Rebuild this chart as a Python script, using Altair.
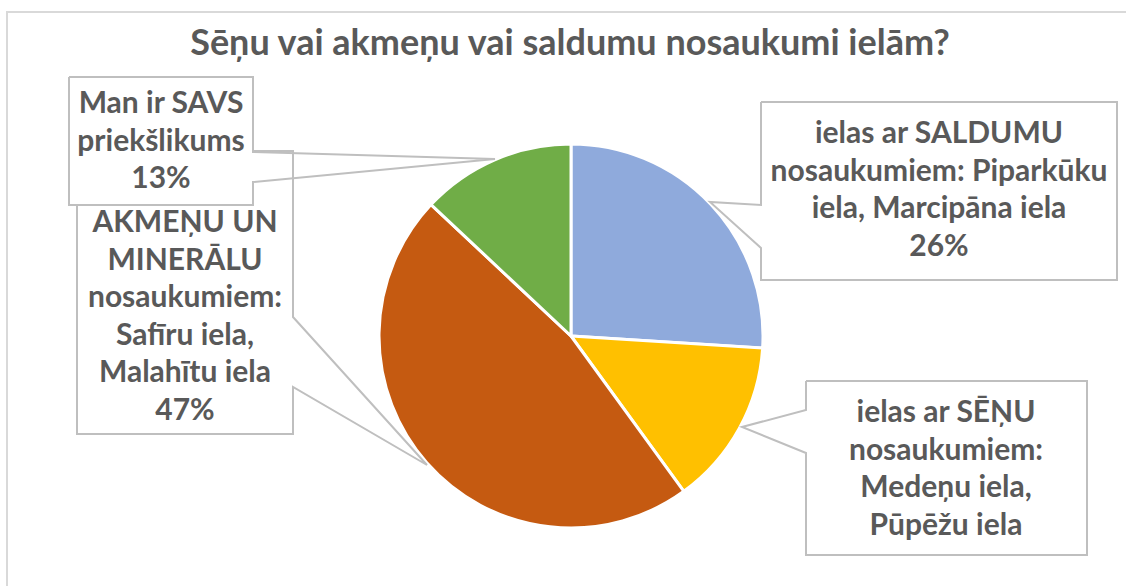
import altair as alt
import pandas as pd

# ---- data ----
categories = [
    "ielas ar SALDUMU nosaukumiem: Piparkūku iela, Marcipāna iela",
    "ielas ar SĒŅU nosaukumiem: Medeņu iela, Pūpēžu iela",
    "ielas ar AKMEŅU UN MINERĀLU nosaukumiem: Safīru iela, Malahītu iela",
    "Man ir SAVS priekšlikums",
]
values = [26, 14, 47, 13]
# visible label lines (the first line "ielas ar" of the AKMEŅU label is hidden behind another box in the original)
label_lines = [
    ["ielas ar SALDUMU", "nosaukumiem: Piparkūku", "iela, Marcipāna iela"],
    ["ielas ar SĒŅU", "nosaukumiem:", "Medeņu iela,", "Pūpēžu iela"],
    ["AKMEŅU UN", "MINERĀLU", "nosaukumiem:", "Safīru iela,", "Malahītu iela"],
    ["Man ir SAVS", "priekšlikums"],
]
show_pct = [True, False, True, True]  # the SĒŅU percentage is cut off in the original
title = "Sēņu vai akmeņu vai saldumu nosaukumi ielām?"

# ---- styling / layout ----
W, H = 1126, 586
colors = ["#8FAADC", "#FFC000", "#C55A11", "#70AD47"]
text_color = "#595959"
box_color = "#BFBFBF"
font = "Lato"
fs = 30
cx, cy, R = 571, 336, 192

pie_df = pd.DataFrame({"cat": categories, "value": values, "idx": list(range(len(values)))})

xs = alt.Scale(domain=[0, W], range=[0, W])
ys = alt.Scale(domain=[0, H], range=[0, H])

frame = alt.Chart(pd.DataFrame({"a": [0]})).mark_rect(
    fill=None, stroke="#D9D9D9", strokeWidth=2
).encode(x=alt.value(7), x2=alt.value(W + 20), y=alt.value(12), y2=alt.value(H + 20))

pie = alt.Chart(pie_df).mark_arc(
    outerRadius=R, stroke="white", strokeWidth=3
).encode(
    theta=alt.Theta("value:Q", stack=True),
    order=alt.Order("idx:Q"),
    color=alt.Color("cat:N", scale=alt.Scale(domain=categories, range=colors), legend=None),
    x=alt.value(cx),
    y=alt.value(cy),
)

# callout geometry: box (x0,y0,x1,y1), wedge side, wedge base y's, tip, text anchor (center x, first line y)
callouts = {
    0: dict(box=(761, 102, 1117, 280), side="left", wy=(205, 248), tip=(710, 202), tc=(939, 134)),
    1: dict(box=(806, 381, 1087, 555), side="left", wy=(410, 453), tip=(742, 427), tc=(946, 413)),
    2: dict(box=(77, 151, 293, 434), side="right", wy=(317, 387), tip=(427, 465), tc=(185, 223)),
    3: dict(box=(69, 77, 253, 205), side="right", wy=(152, 182), tip=(495, 159), tc=(161, 104)),
}


def outline_points(c):
    x0, y0, x1, y1 = c["box"]
    a, b = c["wy"]
    tx, ty = c["tip"]
    if c["side"] == "right":
        pts = [(x0, y0), (x1, y0), (x1, a), (tx, ty), (x1, b), (x1, y1), (x0, y1), (x0, y0)]
    else:
        pts = [(x0, y0), (x1, y0), (x1, y1), (x0, y1), (x0, b), (tx, ty), (x0, a), (x0, y0)]
    return pts


def callout_layers(i):
    c = callouts[i]
    x0, y0, x1, y1 = c["box"]
    fill = alt.Chart(pd.DataFrame({"x": [x0], "x2": [x1], "y": [y0], "y2": [y1]})).mark_rect(
        fill="white", stroke=None
    ).encode(
        x=alt.X("x:Q", scale=xs, axis=None), x2="x2:Q",
        y=alt.Y("y:Q", scale=ys, axis=None), y2="y2:Q",
    )
    pts = outline_points(c)
    odf = pd.DataFrame({"x": [p[0] for p in pts], "y": [p[1] for p in pts], "o": list(range(len(pts)))})
    outline = alt.Chart(odf).mark_line(color=box_color, strokeWidth=2, strokeJoin="miter").encode(
        x=alt.X("x:Q", scale=xs, axis=None),
        y=alt.Y("y:Q", scale=ys, axis=None),
        order="o:Q",
    )
    lines = list(label_lines[i])
    if show_pct[i]:
        lines.append(f"{round(values[i] / sum(values) * 100)}%")
    tdf = pd.DataFrame({"x": [c["tc"][0]], "y": [c["tc"][1]], "t": ["\n".join(lines)]})
    txt = alt.Chart(tdf).mark_text(
        font=font, fontSize=fs, fontWeight="bold", color=text_color,
        align="center", baseline="middle", lineBreak="\n", lineHeight=37.5,
    ).encode(
        x=alt.X("x:Q", scale=xs, axis=None),
        y=alt.Y("y:Q", scale=ys, axis=None),
        text="t:N",
    )
    return [fill, outline, txt]


title_layer = alt.Chart(pd.DataFrame({"t": [title]})).mark_text(
    font=font, fontSize=36, fontWeight="bold", color=text_color, align="center", baseline="middle"
).encode(x=alt.value(570), y=alt.value(44), text="t:N")

layers = [frame, pie]
for i in [2, 3, 0, 1]:
    layers += callout_layers(i)
layers.append(title_layer)

chart = alt.layer(*layers).resolve_scale(color="independent").properties(
    width=W, height=H, autosize="none", padding=0, background="white"
).configure_view(strokeWidth=0)

chart.save("out.html", embed_options={"renderer": "svg", "actions": False})
